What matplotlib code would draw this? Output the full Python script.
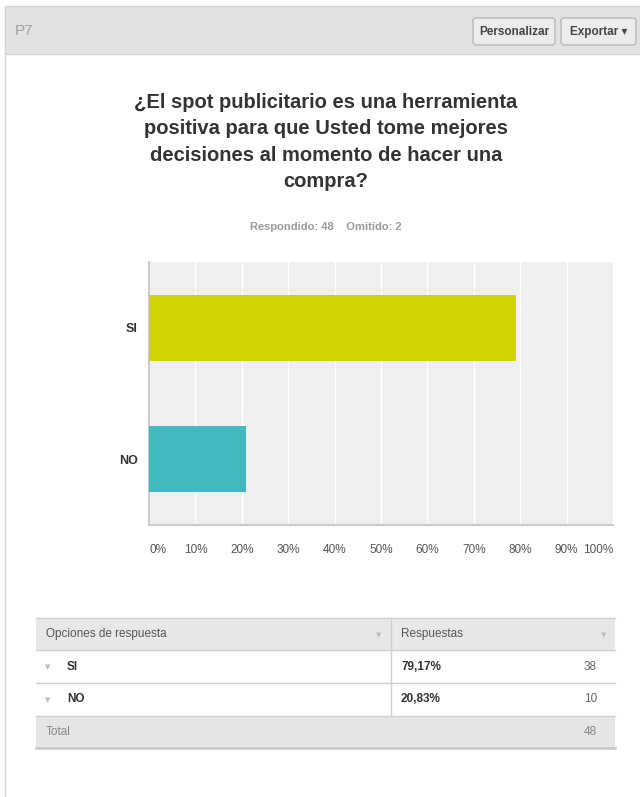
import matplotlib.pyplot as plt
from matplotlib.patches import Rectangle, FancyBboxPatch

# survey answers
categories = ['SI', 'NO']
percentages = [79.17, 20.83]
counts = [38, 10]
answered = 48
skipped = 2
bar_colors = ['#d0d400', '#41b8c0']
x_ticks = [0, 10, 20, 30, 40, 50, 60, 70, 80, 90, 100]

title = ('¿El spot publicitario es una herramienta\n'
         'positiva para que Usted tome mejores\n'
         'decisiones al momento de hacer una\n'
         'compra?')

plt.rcParams['font.family'] = ['Liberation Sans', 'DejaVu Sans']

W, H = 640, 797
fig = plt.figure(figsize=(W / 100, H / 100), dpi=100)
fig.patch.set_facecolor('white')

# page layer in pixel coordinates
bg = fig.add_axes([0, 0, 1, 1])
bg.set_xlim(0, W)
bg.set_ylim(H, 0)
bg.set_axis_off()

# header strip
bg.add_patch(Rectangle((5, 6), 635, 48, facecolor='#e2e2e2', edgecolor='#d4d4d4', lw=1))
bg.plot([5, 5], [54, H], color='#d8d8d8', lw=1)
bg.text(15, 31, 'P7', fontsize=11, color='#a0a0a0', va='center', ha='left')
for x0, w, label in [(473, 82, 'Personalizar'), (561, 75, 'Exportar ▾')]:
    bg.add_patch(FancyBboxPatch((x0, 18), w, 27, boxstyle='round,pad=0,rounding_size=3',
                                facecolor='#ececec', edgecolor='#b8b8b8', lw=1))
    bg.text(x0 + w / 2, 32, label, fontsize=8.5, fontweight='bold', color='#444444',
            ha='center', va='center')

# title and response summary
bg.text(326, 142, title, fontsize=14.5, fontweight='bold', color='#333333',
        ha='center', va='center', linespacing=1.5)
bg.text(326, 227, f'Respondido: {answered}    Omitido: {skipped}', fontsize=8,
        fontweight='bold', color='#9a9a9a', ha='center', va='center')

# bar chart
ax = fig.add_axes([149 / W, 1 - 525 / H, 464 / W, 263 / H])
ax.set_facecolor('#efefef')
ypos = [1, 0]
ax.barh(ypos, percentages, height=0.5, color=bar_colors, zorder=3)
ax.set_xlim(0, 100)
ax.set_ylim(-0.5, 1.5)
ax.set_xticks(x_ticks)
ax.set_xticklabels([f'{t}%' for t in x_ticks], fontsize=8.5, color='#555555')
ax.get_xticklabels()[0].set_ha('left')
ax.get_xticklabels()[-1].set_ha('right')
ax.set_yticks(ypos)
ax.set_yticklabels(categories, fontsize=9, fontweight='bold', color='#333333')
ax.tick_params(length=0, pad=14, axis='x')
ax.tick_params(length=0, pad=8, axis='y')
ax.grid(axis='x', color='white', lw=1, zorder=1)
for s in ['top', 'right']:
    ax.spines[s].set_visible(False)
for s in ['left', 'bottom']:
    ax.spines[s].set_color('#cccccc')
    ax.spines[s].set_linewidth(1.5)

# summary table
tl, tr, sep = 36, 615, 391
rows_y = [618, 650, 683, 716, 748]
bg.add_patch(Rectangle((tl, rows_y[0]), tr - tl, rows_y[1] - rows_y[0],
                       facecolor='#e8e8e8', edgecolor='none'))
bg.add_patch(Rectangle((tl, rows_y[3]), tr - tl, rows_y[4] - rows_y[3],
                       facecolor='#e6e6e6', edgecolor='none'))
for y in rows_y[:-1]:
    bg.plot([tl, tr], [y, y], color='#d0d0d0', lw=1)
bg.plot([tl, tr], [rows_y[4], rows_y[4]], color='#cccccc', lw=2)
bg.plot([sep, sep], [rows_y[0], rows_y[3]], color='#d0d0d0', lw=1)

mid = lambda i: (rows_y[i] + rows_y[i + 1]) / 2
bg.text(46, mid(0), 'Opciones de respuesta', fontsize=8.5, color='#555555', va='center')
bg.text(401, mid(0), 'Respuestas', fontsize=8.5, color='#555555', va='center')
bg.text(379, mid(0) + 1, '▼', fontsize=5, color='#bbbbbb', ha='center', va='center',
        family='DejaVu Sans')
bg.text(604, mid(0) + 1, '▼', fontsize=5, color='#bbbbbb', ha='center', va='center',
        family='DejaVu Sans')
for i, (cat, pct, n) in enumerate(zip(categories, percentages, counts)):
    y = mid(i + 1)
    bg.text(48, y + 1, '▼', fontsize=5, color='#bbbbbb', ha='center', va='center',
            family='DejaVu Sans')
    bg.text(67, y, cat, fontsize=8.5, fontweight='bold', color='#333333', va='center')
    bg.text(401, y, f'{pct:.2f}%'.replace('.', ','), fontsize=8.5, fontweight='bold',
            color='#333333', va='center')
    bg.text(597, y, str(n), fontsize=8.5, color='#666666', va='center', ha='right')
bg.text(46, mid(3), 'Total', fontsize=8.5, color='#888888', va='center')
bg.text(597, mid(3), str(sum(counts)), fontsize=8.5, color='#888888', va='center', ha='right')

fig.savefig('out.png', dpi=100)
